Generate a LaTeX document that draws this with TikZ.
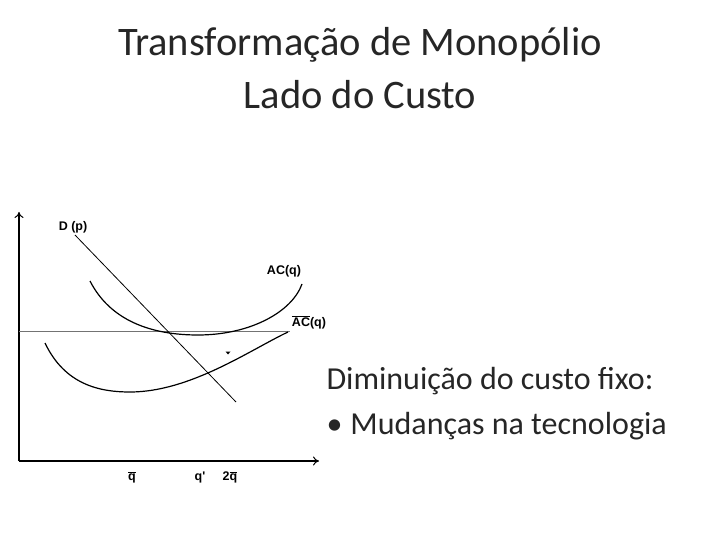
\documentclass[tikz,border=0pt]{standalone}
\usepackage{fontspec}
\setmainfont{Carlito}
\newfontfamily\arialfont{Liberation Sans}
\usetikzlibrary{arrows.meta}
\begin{document}
\begin{tikzpicture}[x=1pt,y=-1pt,
  title/.style={font=\fontsize{40.5}{48}\selectfont, align=center, text=black!85},
  body/.style={font=\fontsize{32}{45}\selectfont, anchor=west, text=black!85},
  lbl/.style={font=\arialfont\bfseries\fontsize{12.5}{14}\selectfont, inner sep=0pt},
  axis/.style={line width=2.4pt, -{To[length=6pt,width=9pt,line width=1pt]}},
  curve/.style={line width=1.2pt},
  thin/.style={line width=0.8pt}]
\useasboundingbox (0,0) rectangle (720,540);
% title
\node[title] (t1) at (360,45) {Transformação de Monopólio};
\node[title] (t2) at (360,95) {Lado do Custo};
% axes
\coordinate (O) at (19,461);
\coordinate (ytop) at (19,212);
\coordinate (xend) at (319,461);
\draw[axis] (O) -- (ytop);
\draw[axis] (O) -- (xend);
% horizontal price line
\coordinate (h0) at (19,331);
\coordinate (h1) at (290,331);
\draw[line width=0.8pt, black!55] (h0) -- (h1);
% demand
\coordinate (d0) at (75,235);
\coordinate (d1) at (236,402);
\draw[thin] (d0) -- (d1);
\node[lbl] (D) at (73,227) {D (p)};
% AC(q)
\coordinate (a0) at (90,281);
\coordinate (am) at (198,335);
\coordinate (a1) at (302,284);
\draw[curve] (a0) .. controls (110,320) and (150,335) .. (am)
  .. controls (250,335) and (292,312) .. (a1);
\node[lbl] (AC) at (284,271) {AC(q)};
% AC bar
\coordinate (b0) at (45,343);
\coordinate (bm) at (130,392);
\coordinate (b1) at (288,332);
\draw[curve] (b0) .. controls (65,385) and (100,392) .. (bm)
  .. controls (190,392) and (250,350) .. (b1);
\node[lbl] (ACb) at (309,322) {$\overline{\mbox{AC}}$(q)};
% small marker
\fill (225.5,351.5) -- (230.5,351.5) -- (228,354.5) -- cycle;
% quantity labels
\node[lbl] (qb) at (132,477) {$\overline{\mbox{q}}$};
\node[lbl] (qp) at (200,477) {q'};
\node[lbl] (q2) at (230,477) {2$\overline{\mbox{q}}$};
% body text
\node[body] (b1t) at (323,381) {Diminuição do custo fixo:};
\node[body] (b2t) at (323,426) {•\hspace{8pt}Mudanças na tecnologia};
\end{tikzpicture}
\end{document}
